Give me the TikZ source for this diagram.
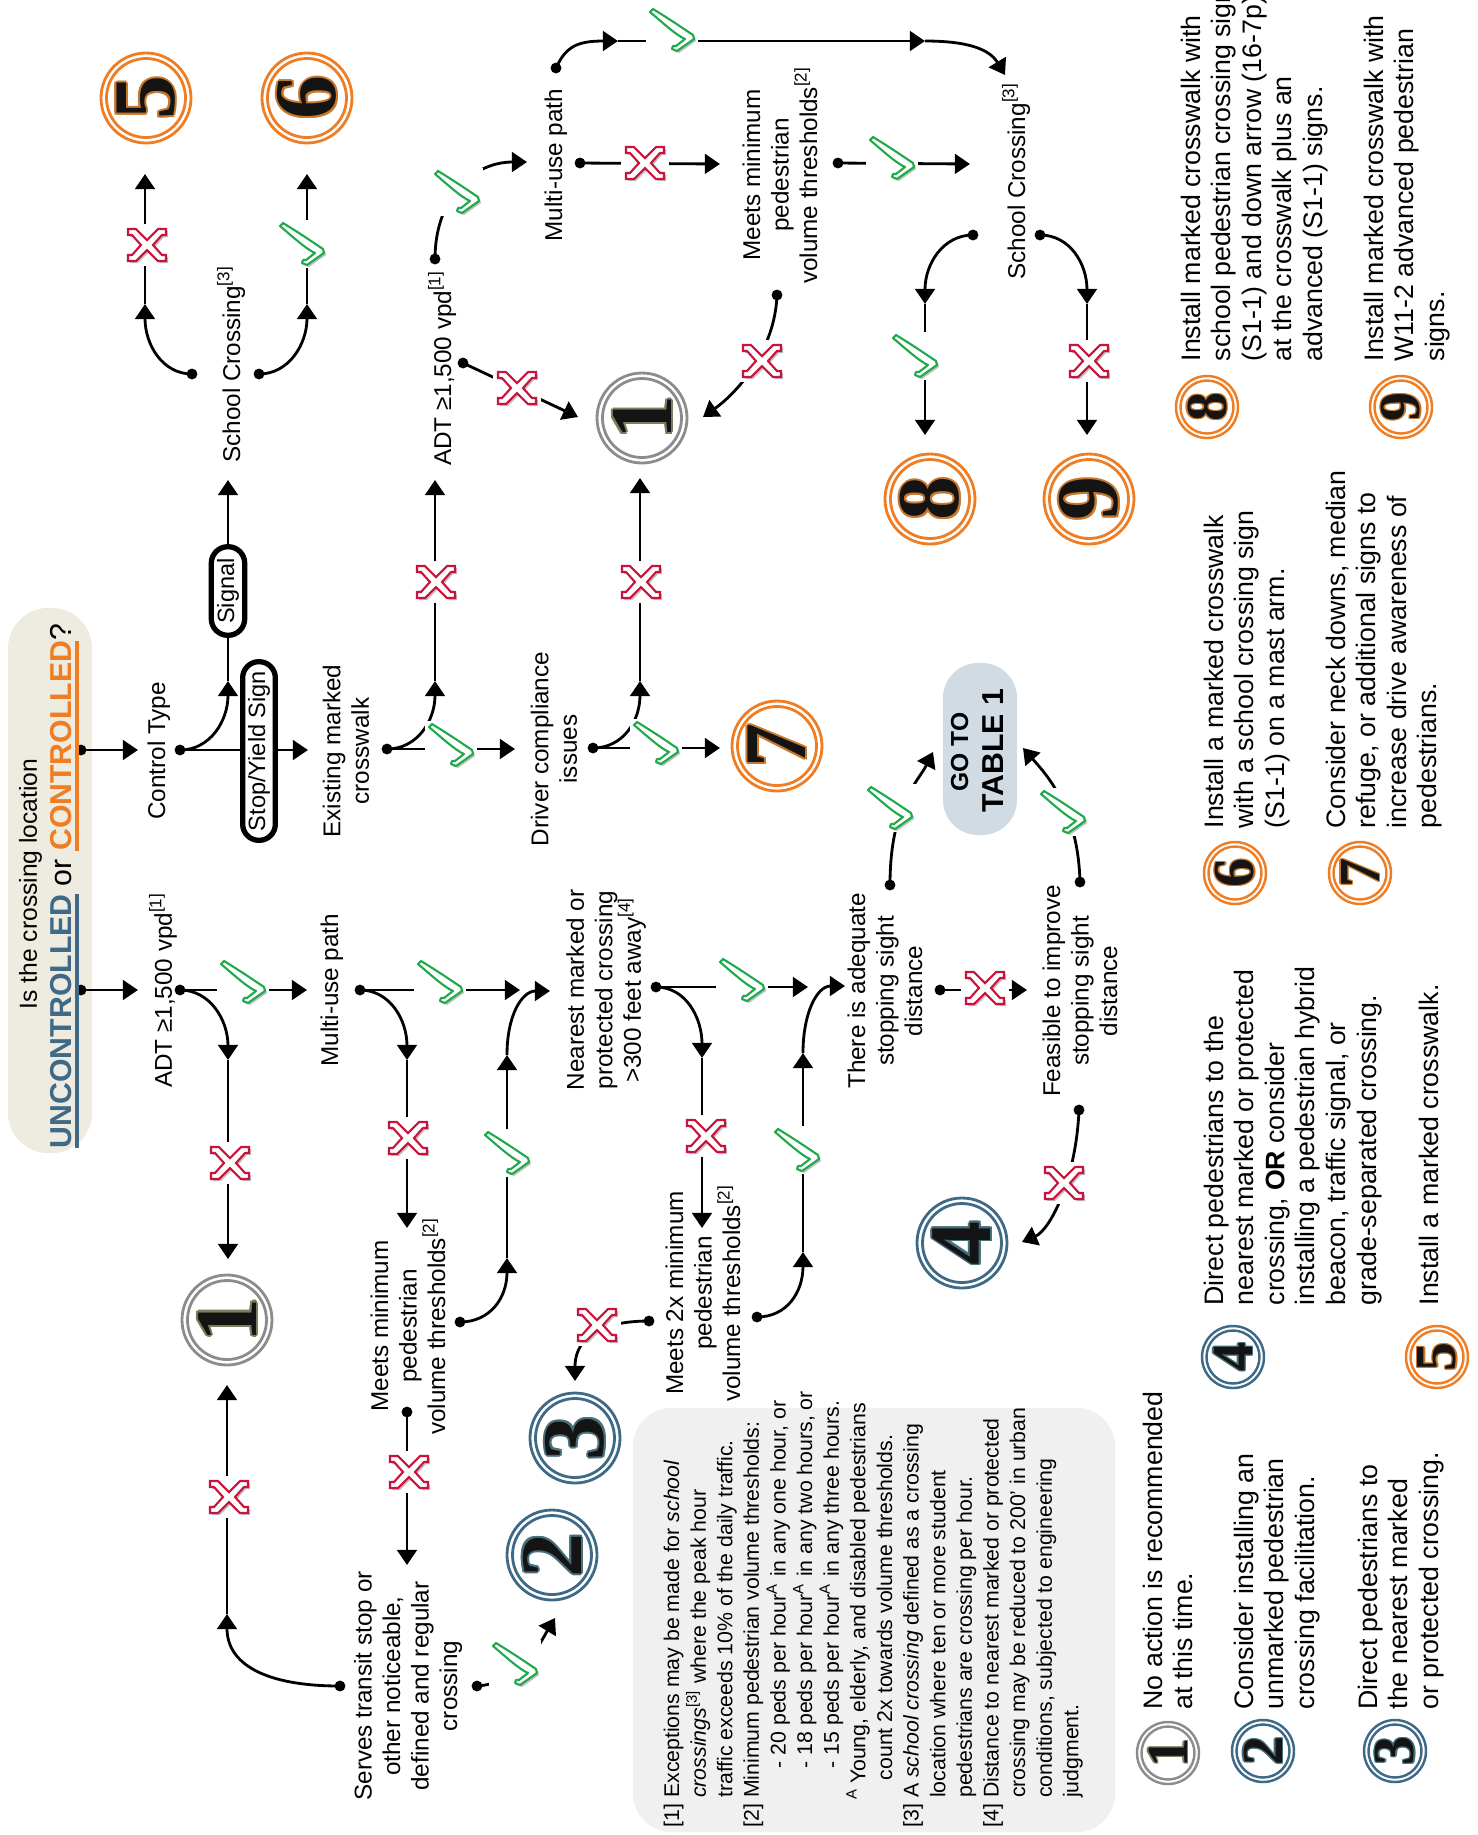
\documentclass[tikz,border=0pt]{standalone}
\usepackage{fontspec}
\setmainfont{Liberation Sans}
\newfontfamily\numfont{Liberation Serif}
\usetikzlibrary{arrows.meta}
\definecolor{cOr}{RGB}{238,125,35}
\definecolor{cBl}{RGB}{62,106,135}
\definecolor{cGy}{RGB}{140,140,140}
\definecolor{cChk}{RGB}{30,170,75}
\definecolor{cX}{RGB}{200,20,60}
\definecolor{cBeige}{RGB}{238,236,225}
\definecolor{cTab}{RGB}{208,219,228}
\definecolor{cNote}{RGB}{240,240,240}
\definecolor{eOl}{RGB}{118,128,92}
\definecolor{eTeal}{RGB}{72,112,122}
\definecolor{eBr}{RGB}{200,120,45}
\newcommand\thul[1]{\setbox0\hbox{#1}\rlap{\rule[-2.3pt]{\wd0}{1.2pt}}\box0}
\tikzset{
  chk/.pic={
    \fill[white] (-25,-24) rectangle (27,24);
    \fill[black!25,shift={(2,2)}] (-21,-18) -- (-18,-21) .. controls (0,-10) and (10,-3) .. (22,5) -- (23,9) -- (6,21) -- (1,19) -- (2,16) -- (5,16) -- (14,9) .. controls (5,5) and (-8,-7) .. cycle;
    \draw[cChk,line width=0.6pt,fill=white,line join=round] (-21,-18) -- (-18,-21) .. controls (0,-10) and (10,-3) .. (22,5) -- (23,9) -- (6,21) -- (1,19) -- (2,16) -- (5,16) -- (14,9) .. controls (5,5) and (-8,-7) .. cycle;
  },
  xx/.pic={
    \fill[white] (-24,-21) rectangle (24,21);
    \fill[black!25,shift={(2,2)}] (-19,-16) -- (-11,-16) -- (0,-5) -- (11,-16) -- (19,-16) -- (19,-10) -- (15,-10) -- (6,0) -- (15,10) -- (19,10) -- (19,16) -- (11,16) -- (0,5) -- (-11,16) -- (-19,16) -- (-19,10) -- (-15,10) -- (-6,0) -- (-15,-10) -- (-19,-10) -- cycle;
    \draw[cX,line width=0.6pt,fill=white] (-19,-16) -- (-11,-16) -- (0,-5) -- (11,-16) -- (19,-16) -- (19,-10) -- (15,-10) -- (6,0) -- (15,10) -- (19,10) -- (19,16) -- (11,16) -- (0,5) -- (-11,16) -- (-19,16) -- (-19,10) -- (-15,10) -- (-6,0) -- (-15,-10) -- (-19,-10) -- cycle;
  },
  bignumf/.style={font=\numfont\bfseries\fontsize{25}{25}\selectfont,rotate=90,inner sep=0pt},
  smallnumf/.style={font=\numfont\bfseries\fontsize{16.5}{16.5}\selectfont,rotate=90,inner sep=0pt},
}
\newcommand\bignum[6]{%
  \draw[#4,line width=0.8pt] (#2,#3) circle (45);
  \draw[#4,line width=0.8pt] (#2,#3) circle (39.5);
  \foreach \dx/\dy in {2/0,-2/0,0/2,0/-2,1.4/1.4,-1.4/1.4,1.4/-1.4,-1.4/-1.4}
    {\node[bignumf,text=#6] at ([shift={(\dx,\dy)}]#2,#3) {#5};}
  \node[bignumf,text=black!92] (#1) at (#2,#3) {#5};
}
\newcommand\smallnum[6]{%
  \draw[#4,line width=0.7pt] (#2,#3) circle (31);
  \draw[#4,line width=0.7pt] (#2,#3) circle (26.5);
  \foreach \dx/\dy in {1.4/0,-1.4/0,0/1.4,0/-1.4,1/1,-1/1,1/-1,-1/-1}
    {\node[smallnumf,text=#6] at ([shift={(\dx,\dy)}]#2,#3) {#5};}
  \node[smallnumf,text=black!92] (#1) at (#2,#3) {#5};
}
\begin{document}
\begin{tikzpicture}[x=0.01cm,y=-0.01cm,
  arr/.style={line width=0.8pt,-{Triangle[length=4.3pt,width=5.6pt]}},
  dotn/.style={circle,fill=black,inner sep=0pt,minimum size=3.1pt},
  lbl/.style={font=\fontsize{6.9}{8.1}\selectfont,rotate=90,inner sep=0pt,anchor=base},
  mlbl/.style={font=\fontsize{6.9}{8.1}\selectfont,rotate=90,inner sep=0pt,align=center},
  legend/.style={font=\fontsize{7.6}{8.7}\selectfont,rotate=90,inner sep=0pt,align=left,anchor=north west},
  note/.style={font=\fontsize{6.05}{7.57}\selectfont,rotate=90,inner sep=0pt,align=left,anchor=north west},
  pill/.style={draw,line width=1.5pt,fill=white,rotate=90,inner sep=0pt,font=\fontsize{6.7}{8}\selectfont},
]
\useasboundingbox (0,0) rectangle (1478,1835);
% ---------- background boxes
\node[fill=cBeige,rounded corners=11.5pt,inner sep=0pt,minimum width=0.84cm,minimum height=5.45cm] (tbox) at (50,880.5) {};
\node[fill=cNote,rounded corners=11pt,inner sep=0pt,minimum width=4.82cm,minimum height=4.24cm] (nbox) at (874,1620) {};
\node[fill=cTab,rounded corners=10pt,inner sep=0pt,minimum width=0.74cm,minimum height=1.72cm] (tabbox) at (980,749) {};
% ---------- dots
\node[dotn] (dT1) at (81,750) {};
\node[dotn] (dT2) at (81,990) {};
\node[dotn] (dCT) at (180,750) {};
\node[dotn] (dSCl) at (192,374) {};
\node[dotn] (dSCr) at (259,374) {};
\node[dotn] (dEx) at (387,749) {};
\node[dotn] (dADct) at (435,259) {};
\node[dotn] (dADcr) at (463,363) {};
\node[dotn] (dDr) at (593,748) {};
\node[dotn] (dMUct) at (556,68) {};
\node[dotn] (dMUcr) at (580,163) {};
\node[dotn] (dMMcr) at (838,163) {};
\node[dotn] (dMMcb) at (777,295) {};
\node[dotn] (dSCbl) at (973,235) {};
\node[dotn] (dSCbr) at (1040,235) {};
\node[dotn] (dADu) at (180,990) {};
\node[dotn] (dMUu) at (360,990) {};
\node[dotn] (dMMul) at (407,1412) {};
\node[dotn] (dMMur) at (460,1322) {};
\node[dotn] (dSTl) at (340,1686) {};
\node[dotn] (dSTr) at (477,1686) {};
\node[dotn] (dNr) at (656,987) {};
\node[dotn] (dM2l) at (649,1321) {};
\node[dotn] (dM2r) at (757,1317) {};
\node[dotn] (dTAt) at (890,885) {};
\node[dotn] (dTAr) at (940,990) {};
\node[dotn] (dFt) at (1080,882) {};
\node[dotn] (dFb) at (1079,1110) {};
% ---------- coordinates (arrow tips and joints)
\coordinate (tCT) at (138,750);
\coordinate (tEx) at (308,750);
\coordinate (mSig) at (228,681);
\coordinate (tSC1) at (228,480);
\coordinate (m5) at (145,304);
\coordinate (t5) at (145,174);
\coordinate (m6) at (307,304);
\coordinate (t6) at (307,174);
\coordinate (tDr) at (515,749);
\coordinate (mAD) at (435,681);
\coordinate (tAD) at (435,480);
\coordinate (tMUc) at (527,162);
\coordinate (t1a) at (578,417);
\coordinate (t7) at (720,748);
\coordinate (mDr) at (640,681);
\coordinate (t1b) at (640,478);
\coordinate (tMMc) at (720,164);
\coordinate (mMU2) at (618,41);
\coordinate (nMU2) at (925,41);
\coordinate (tSC2a) at (1005,75);
\coordinate (tSC2b) at (970,164);
\coordinate (t1c) at (703,417);
\coordinate (m8) at (925,304);
\coordinate (t8) at (925,435);
\coordinate (m9) at (1087,304);
\coordinate (t9) at (1087,435);
\coordinate (tADu) at (138,990);
\coordinate (tMUu) at (307,990);
\coordinate (mADu) at (228,1060);
\coordinate (t1d) at (228,1259);
\coordinate (mST) at (227,1614);
\coordinate (t1e) at (227,1385);
\coordinate (t2) at (555,1618);
\coordinate (tNr) at (520,990);
\coordinate (mMUu) at (407,1060);
\coordinate (tMMu) at (407,1228);
\coordinate (tST) at (407,1565);
\coordinate (mMMu) at (507,1258);
\coordinate (nMMu) at (507,1055);
\coordinate (tNr2) at (550,991);
\coordinate (tTA) at (808,987);
\coordinate (mNr) at (702,1058);
\coordinate (tM2) at (702,1228);
\coordinate (t3) at (575,1381);
\coordinate (mM2) at (803,1252);
\coordinate (nM2) at (803,1053);
\coordinate (tTA2) at (845,986);
\coordinate (tTab1) at (933,752);
\coordinate (tFe) at (1027,990);
\coordinate (tTab2) at (1023,748);
\coordinate (t4) at (1022,1242);
% ---------- connectors: controlled
\draw[arr] (dT1.center) -- (tCT);
\draw[arr] (dCT.center) -- (tEx);
\draw[arr] (dCT.center) .. controls +(30,0) and +(0,40) .. (mSig);
\draw[arr] (mSig) -- (tSC1);
\draw[arr] (dSCl.center) .. controls +(-30,0) and +(0,40) .. (m5);
\draw[arr] (m5) -- (t5);
\draw[arr] (dSCr.center) .. controls +(30,0) and +(0,40) .. (m6);
\draw[arr] (m6) -- (t6);
\draw[arr] (dEx.center) -- (tDr);
\draw[arr] (dEx.center) .. controls +(30,0) and +(0,40) .. (mAD);
\draw[arr] (mAD) -- (tAD);
\draw[arr] (dADct.center) .. controls +(0,-60) and +(-55,0) .. (tMUc);
\draw[arr] (dADcr.center) -- (t1a);
\draw[arr] (dDr.center) -- (t7);
\draw[arr] (dDr.center) .. controls +(30,0) and +(0,40) .. (mDr);
\draw[arr] (mDr) -- (t1b);
\draw[arr] (dMUcr.center) -- (tMMc);
\draw[arr] (dMUct.center) .. controls +(10,-22) and +(-40,0) .. (mMU2);
\draw[arr] (mMU2) -- (nMU2);
\draw[arr] (nMU2) .. controls +(45,0) and +(-15,-25) .. (tSC2a);
\draw[arr] (dMMcr.center) -- (tSC2b);
\draw[arr] (dMMcb.center) .. controls +(-2,55) and +(35,-25) .. (t1c);
\draw[arr] (dSCbl.center) .. controls +(-30,0) and +(0,-40) .. (m8);
\draw[arr] (m8) -- (t8);
\draw[arr] (dSCbr.center) .. controls +(30,0) and +(0,-40) .. (m9);
\draw[arr] (m9) -- (t9);
% ---------- connectors: uncontrolled
\draw[arr] (dT2.center) -- (tADu);
\draw[arr] (dADu.center) -- (tMUu);
\draw[arr] (dADu.center) .. controls +(30,0) and +(0,-40) .. (mADu);
\draw[arr] (mADu) -- (t1d);
\draw[arr] (dSTl.center) .. controls +(-75,0) and +(0,50) .. (mST);
\draw[arr] (mST) -- (t1e);
\draw[arr] (dSTr.center) .. controls +(45,-3) and +(-15,25) .. (t2);
\draw[arr] (dMUu.center) -- (tNr);
\draw[arr] (dMUu.center) .. controls +(30,0) and +(0,-40) .. (mMUu);
\draw[arr] (mMUu) -- (tMMu);
\draw[arr] (dMMul.center) -- (tST);
\draw[arr] (dMMur.center) .. controls +(30,0) and +(0,40) .. (mMMu);
\draw[arr] (mMMu) -- (nMMu);
\draw[arr] (nMMu) .. controls +(0,-40) and +(-28,0) .. (tNr2);
\draw[arr] (dNr.center) -- (tTA);
\draw[arr] (dNr.center) .. controls +(30,0) and +(0,-40) .. (mNr);
\draw[arr] (mNr) -- (tM2);
\draw[arr] (dM2l.center) .. controls +(-60,0) and +(0,-35) .. (t3);
\draw[arr] (dM2r.center) .. controls +(30,0) and +(0,40) .. (mM2);
\draw[arr] (mM2) -- (nM2);
\draw[arr] (nM2) .. controls +(0,-40) and +(-28,0) .. (tTA2);
\draw[arr] (dTAt.center) .. controls +(0,-80) and +(-15,30) .. (tTab1);
\draw[arr] (dTAr.center) -- (tFe);
\draw[arr] (dFt.center) .. controls +(-2,-75) and +(22,25) .. (tTab2);
\draw[arr] (dFb.center) .. controls +(-3,70) and +(28,-12) .. (t4);
% ---------- check marks
\pic (k1) at (242,982) {chk};
\pic (k2) at (439,982) {chk};
\pic (k3) at (741,980) {chk};
\pic (k4) at (301,244) {chk};
\pic (k5) at (450,745) {chk};
\pic (k6) at (456,192) {chk};
\pic (k7) at (655,743) {chk};
\pic (k8) at (671,30) {chk};
\pic (k9) at (891,158) {chk};
\pic (k10) at (914,356) {chk};
\pic (k11) at (514,1664) {chk};
\pic (k12) at (506,1153) {chk};
\pic (k13) at (796,1150) {chk};
\pic (k14) at (889,808) {chk};
\pic (k15) at (1062,812) {chk};
% ---------- crosses
\pic (x1) at (147,245) {xx};
\pic (x2) at (436,582) {xx};
\pic (x3) at (517,388) {xx};
\pic (x4) at (641,582) {xx};
\pic (x5) at (645,163) {xx};
\pic (x6) at (762,361) {xx};
\pic (x7) at (1089,361) {xx};
\pic (x8) at (230,1163) {xx};
\pic (x9) at (229,1497) {xx};
\pic (x10) at (408,1138) {xx};
\pic (x11) at (409,1472) {xx};
\pic (x12) at (706,1136) {xx};
\pic (x13) at (597,1325) {xx};
\pic (x14) at (985,988) {xx};
\pic (x15) at (1064,1183) {xx};
% ---------- pills
\node[pill,minimum width=25.2pt,minimum height=9.5pt,rounded corners=4.7pt] (sig) at (228,591) {Signal};
\node[pill,minimum width=50.8pt,minimum height=9.3pt,rounded corners=4.6pt] (stop) at (259,751) {Stop/Yield Sign};
% ---------- title
\node[font=\fontsize{7}{8}\selectfont,rotate=90,inner sep=0pt,anchor=base] (q1) at (37,884) {Is the crossing location};
\node[font=\fontsize{8.6}{9}\selectfont,rotate=90,inner sep=0pt,anchor=base] (q2) at (71,886) {{\color{cBl}\bfseries\thul{UNCONTROLLED}} or {\color{cOr}\bfseries\thul{CONTROLLED}}?};
% ---------- labels
\node[lbl] (ct) at (165,751) {Control Type};
\node[lbl] (adu) at (172,990) {ADT ≥1,500 vpd\textsuperscript{[1]}};
\node[lbl] (muu) at (338,990) {Multi-use path};
\node[lbl] (scl) at (240,364) {School Crossing\textsuperscript{[3]}};
\node[lbl] (adc) at (451,368) {ADT ≥1,500 vpd\textsuperscript{[1]}};
\node[lbl] (muc) at (562,165) {Multi-use path};
\node[lbl] (scr) at (1025,181) {School Crossing\textsuperscript{[3]}};
\node[mlbl] (ex) at (346,751) {Existing marked\\crosswalk};
\node[mlbl] (dr) at (554,749) {Driver compliance\\issues};
\node[mlbl] (mmu) at (408,1326) {Meets minimum\\pedestrian\\volume thresholds\textsuperscript{[2]}};
\node[mlbl] (st) at (408,1686) {Serves transit stop or\\other noticeable,\\defined and regular\\crossing};
\node[mlbl] (nr) at (606,990) {Nearest marked or\\protected crossing\\>300 feet away\textsuperscript{[4]}};
\node[mlbl] (m2) at (703,1293) {Meets 2x minimum\\pedestrian\\volume thresholds\textsuperscript{[2]}};
\node[mlbl] (ta) at (885,991) {There is adequate\\stopping sight\\distance};
\node[mlbl] (fe) at (1080,991) {Feasible to improve\\stopping sight\\distance};
\node[mlbl] (mmc) at (780,175) {Meets minimum\\pedestrian\\volume thresholds\textsuperscript{[2]}};
\node[font=\bfseries\fontsize{7}{8}\selectfont,rotate=90,inner sep=0pt,anchor=base] (goto) at (968,752) {GO TO};
\node[font=\bfseries\fontsize{8.6}{9}\selectfont,rotate=90,inner sep=0pt,anchor=base] (tab) at (1003,751) {TABLE 1};
% ---------- numbered circles
\bignum{c1a}{642}{418}{cGy}{1}{eOl}
\bignum{c1b}{227}{1320}{cGy}{1}{eOl}
\bignum{c2}{552}{1555}{cBl}{2}{eTeal}
\bignum{c3}{575}{1438}{cBl}{3}{eTeal}
\bignum{c4}{962}{1243}{cBl}{4}{eTeal}
\bignum{c5}{146}{98}{cOr}{5}{eBr}
\bignum{c6}{307}{98}{cOr}{6}{eBr}
\bignum{c7}{777}{746}{cOr}{7}{eBr}
\bignum{c8}{930}{499}{cOr}{8}{eBr}
\bignum{c9}{1089}{499}{cOr}{9}{eBr}
% ---------- legend
\smallnum{s1}{1168}{1753}{cGy}{1}{eOl}
\smallnum{s2}{1263}{1751}{cBl}{2}{eTeal}
\smallnum{s3}{1395}{1751}{cBl}{3}{eTeal}
\smallnum{s4}{1233}{1357}{cBl}{4}{eTeal}
\smallnum{s5}{1437}{1357}{cOr}{5}{eBr}
\smallnum{s6}{1235}{873}{cOr}{6}{eBr}
\smallnum{s7}{1360}{873}{cOr}{7}{eBr}
\smallnum{s8}{1207}{407}{cOr}{8}{eBr}
\smallnum{s9}{1401}{407}{cOr}{9}{eBr}
\node[legend] (l1) at (1142,1710) {No action is recommended\\at this time.};
\node[legend] (l2) at (1233,1710) {Consider installing an\\unmarked pedestrian\\crossing facilitation.};
\node[legend] (l3) at (1357,1710) {Direct pedestrians to\\the nearest marked\\or protected crossing.};
\node[legend] (l4) at (1203,1306) {Direct pedestrians to the\\nearest marked or protected\\crossing, \textbf{OR} consider\\installing a pedestrian hybrid\\beacon, traffic signal, or\\grade-separated crossing.};
\node[legend] (l5) at (1418,1306) {Install a marked crosswalk.};
\node[legend] (l6) at (1203,829) {Install a marked crosswalk\\with a school crossing sign\\(S1-1) on a mast arm.};
\node[legend] (l7) at (1325,829) {Consider neck downs, median\\refuge, or additional signs to\\increase drive awareness of\\pedestrians.};
\node[legend] (l8) at (1180,362) {Install marked crosswalk with\\school pedestrian crossing sign\\(S1-1) and down arrow (16-7p)\\at the crosswalk plus an\\advanced (S1-1) signs.};
\node[legend] (l9) at (1363,362) {Install marked crosswalk with\\W11-2 advanced pedestrian\\signs.};
% ---------- notes
\node[note] (fn) at (663,1828) {{[1]} Exceptions may be made for \textit{school}\\
\hspace*{8.4pt}\textit{crossings}\textsuperscript{[3]} where the peak hour\\
\hspace*{8.4pt}traffic exceeds 10\% of the daily traffic.\\
{[2]} Minimum pedestrian volume thresholds:\\
\hspace*{16.8pt}- 20 peds per hour\textsuperscript{A} in any one hour, or\\
\hspace*{16.8pt}- 18 peds per hour\textsuperscript{A} in any two hours, or\\
\hspace*{16.8pt}- 15 peds per hour\textsuperscript{A} in any three hours.\\
\hspace*{8pt}\textsuperscript{A}\,Young, elderly, and disabled pedestrians\\
\hspace*{13.4pt}count 2x towards volume thresholds.\\
{[3]} A \textit{school crossing} defined as a crossing\\
\hspace*{8.4pt}location where ten or more student\\
\hspace*{8.4pt}pedestrians are crossing per hour.\\
{[4]} Distance to nearest marked or protected\\
\hspace*{8.4pt}crossing may be reduced to 200' in urban\\
\hspace*{8.4pt}conditions, subjected to engineering\\
\hspace*{8.4pt}judgment.};
\end{tikzpicture}
\end{document}
